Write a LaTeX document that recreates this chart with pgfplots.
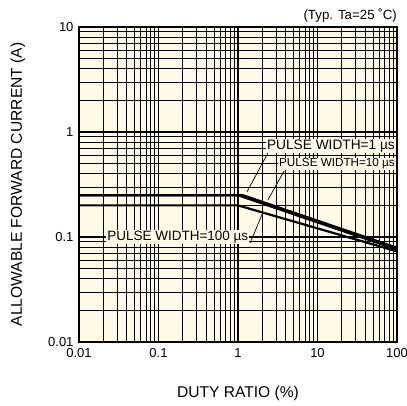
\documentclass[border=0pt]{standalone}
\usepackage{pgfplots}
\pgfplotsset{compat=1.18}
\usepackage{fontspec}
\setmainfont{Liberation Sans}
\definecolor{cream}{RGB}{255,251,232}
\begin{document}
\begin{tikzpicture}[x=1pt,y=1pt]
\begin{axis}[
 at={(0,0)}, anchor=south west,
 scale only axis, width=318pt, height=315pt,
 xmode=log, ymode=log,
 xmin=0.01, xmax=100, ymin=0.01, ymax=10,
 xtick={0.01,0.1,1,10,100}, xticklabels={0.01,0.1,1,10,100},
 ytick={0.01,0.1,1,10}, yticklabels={0.01,0.1,1,10},
 minor xtick={0.02,0.03,0.04,0.05,0.06,0.07,0.08,0.09,0.2,0.3,0.4,0.5,0.6,0.7,0.8,0.9,2,3,4,5,6,7,8,9,20,30,40,50,60,70,80,90},
 minor ytick={0.02,0.03,0.04,0.05,0.06,0.07,0.08,0.09,0.2,0.3,0.4,0.5,0.6,0.7,0.8,0.9,2,3,4,5,6,7,8,9},
 major tick length=0pt, minor tick length=0pt,
 grid=both,
 major grid style={black, line width=1.2pt},
 minor grid style={black, line width=0.75pt},
 axis line style={black, line width=1.3pt},
 axis background/.style={fill=cream},
 tick label style={font=\fontsize{13}{13}\selectfont},
 xticklabel style={yshift=-3pt},
 yticklabel style={xshift=-2pt},
 /pgf/number format/assume math mode=true,
 xlabel={DUTY RATIO (\%)},
 ylabel={ALLOWABLE FORWARD CURRENT (A)},
 label style={font=\fontsize{15.6}{15.6}\selectfont},
 xlabel style={at={(axis description cs:0.5,-0.162)}, anchor=center},
 ylabel style={at={(axis description cs:-0.192,0.5)}, anchor=center},
 clip=true,
]
\addplot[black, line width=2.2pt] coordinates {(0.01,0.25) (1.15,0.25) (100,0.079)};
\addplot[black, line width=2.2pt] coordinates {(0.01,0.25) (1,0.25) (100,0.076)};
\addplot[black, line width=2.2pt] coordinates {(0.01,0.2) (1,0.2) (100,0.073)};

\draw[black, line width=0.7pt] (rel axis cs:0.594,0.6) -- (rel axis cs:0.528,0.476);
\draw[black, line width=0.7pt] (rel axis cs:0.645,0.543) -- (rel axis cs:0.594,0.451);
\draw[black, line width=0.7pt] (rel axis cs:0.538,0.314) -- (rel axis cs:0.579,0.413);

\node[anchor=east, fill=cream, inner sep=1pt, font=\fontsize{13.7}{13.7}\selectfont] at (rel axis cs:0.997,0.622) {PULSE WIDTH=1 µs};
\node[anchor=east, fill=cream, inner sep=1pt, font=\fontsize{11.7}{11.7}\selectfont] at (rel axis cs:0.997,0.565) {PULSE WIDTH=10 µs};
\node[anchor=east, fill=cream, inner sep=1pt, font=\fontsize{13.5}{13.5}\selectfont] at (rel axis cs:0.536,0.333) {PULSE WIDTH=100 µs};
\end{axis}
\node[anchor=base east, inner sep=0pt, font=\fontsize{13.3}{13.3}\selectfont] at (318,322) {(Typ. Ta=25 ˚C)};
\pgfresetboundingbox
\useasboundingbox (-79,-64) rectangle (328,342);
\end{tikzpicture}
\end{document}
